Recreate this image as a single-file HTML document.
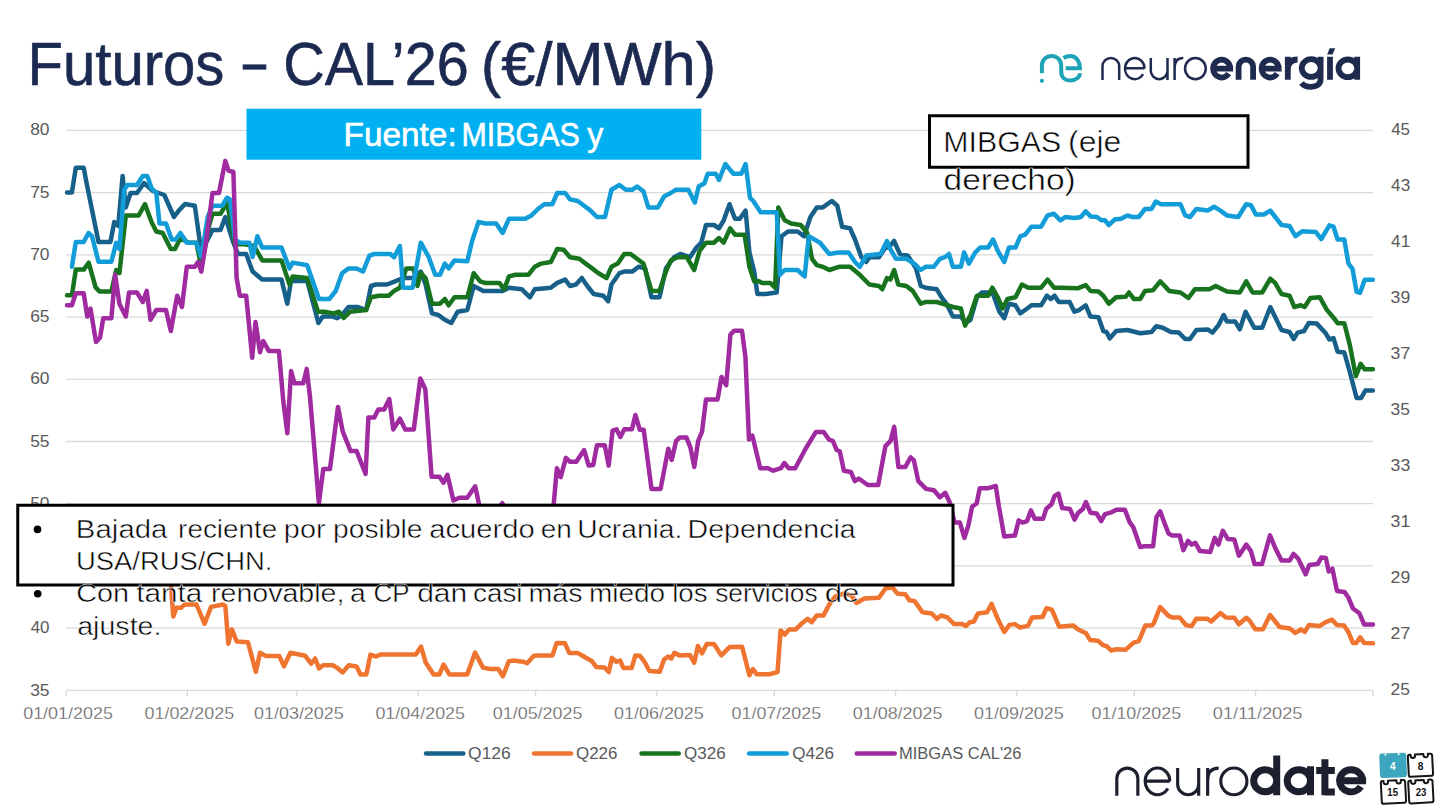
<!DOCTYPE html>
<html><head><meta charset="utf-8"><style>html,body{margin:0;padding:0;background:#fff;}body{width:1440px;height:810px;position:relative;overflow:hidden;font-family:"Liberation Sans",sans-serif;}</style></head><body>
<svg width="1440" height="810" viewBox="0 0 1440 810" style="position:absolute;left:0;top:0" font-family="Liberation Sans, sans-serif">
<rect width="1440" height="810" fill="#fff"/>
<line x1="66" y1="130.4" x2="1373" y2="130.4" stroke="#d9d9d9" stroke-width="1.3"/>
<line x1="66" y1="192.62" x2="1373" y2="192.62" stroke="#d9d9d9" stroke-width="1.3"/>
<line x1="66" y1="254.84" x2="1373" y2="254.84" stroke="#d9d9d9" stroke-width="1.3"/>
<line x1="66" y1="317.06" x2="1373" y2="317.06" stroke="#d9d9d9" stroke-width="1.3"/>
<line x1="66" y1="379.28" x2="1373" y2="379.28" stroke="#d9d9d9" stroke-width="1.3"/>
<line x1="66" y1="441.5" x2="1373" y2="441.5" stroke="#d9d9d9" stroke-width="1.3"/>
<line x1="66" y1="503.72" x2="1373" y2="503.72" stroke="#d9d9d9" stroke-width="1.3"/>
<line x1="66" y1="565.9399999999999" x2="1373" y2="565.9399999999999" stroke="#d9d9d9" stroke-width="1.3"/>
<line x1="66" y1="628.16" x2="1373" y2="628.16" stroke="#d9d9d9" stroke-width="1.3"/>
<line x1="66" y1="690.38" x2="1373" y2="690.38" stroke="#d9d9d9" stroke-width="1.3"/>
<line x1="66.0" y1="690.38" x2="66.0" y2="695.88" stroke="#d9d9d9" stroke-width="1.3"/>
<line x1="187.3" y1="690.38" x2="187.3" y2="695.88" stroke="#d9d9d9" stroke-width="1.3"/>
<line x1="296.9" y1="690.38" x2="296.9" y2="695.88" stroke="#d9d9d9" stroke-width="1.3"/>
<line x1="418.2" y1="690.38" x2="418.2" y2="695.88" stroke="#d9d9d9" stroke-width="1.3"/>
<line x1="535.6" y1="690.38" x2="535.6" y2="695.88" stroke="#d9d9d9" stroke-width="1.3"/>
<line x1="656.9" y1="690.38" x2="656.9" y2="695.88" stroke="#d9d9d9" stroke-width="1.3"/>
<line x1="774.3" y1="690.38" x2="774.3" y2="695.88" stroke="#d9d9d9" stroke-width="1.3"/>
<line x1="895.6" y1="690.38" x2="895.6" y2="695.88" stroke="#d9d9d9" stroke-width="1.3"/>
<line x1="1016.9" y1="690.38" x2="1016.9" y2="695.88" stroke="#d9d9d9" stroke-width="1.3"/>
<line x1="1134.3" y1="690.38" x2="1134.3" y2="695.88" stroke="#d9d9d9" stroke-width="1.3"/>
<line x1="1255.6" y1="690.38" x2="1255.6" y2="695.88" stroke="#d9d9d9" stroke-width="1.3"/>
<line x1="1373.0" y1="690.38" x2="1373.0" y2="695.88" stroke="#d9d9d9" stroke-width="1.3"/>
<path d="M67.0,192.5 L71.9,192.5 L75.8,167.8 L83.7,167.8 L86.3,181.7 L98.5,242.0 L110.4,242.0 L114.3,222.0 L118.3,226.0 L122.6,176.0 L125.8,207.4 L130.6,193.0 L137.0,193.0 L144.0,183.0 L153.0,191.0 L164.3,195.0 L174.0,217.0 L178.8,210.6 L185.0,204.0 L194.8,205.8 L201.3,252.0 L206.0,242.7 L212.5,230.0 L220.5,230.0 L225.3,217.0 L233.4,242.7 L238.0,254.0 L246.2,254.0 L252.6,271.6 L262.2,279.6 L281.5,279.6 L287.3,303.7 L291.0,281.0 L307.2,281.0 L318.4,323.0 L322.8,316.6 L332.5,316.6 L337.3,318.2 L342.1,315.0 L348.5,307.0 L358.2,307.0 L366.2,310.0 L371.0,286.0 L375.8,284.5 L387.0,284.5 L395.0,281.3 L403.1,278.0 L412.7,278.0 L420.8,271.6 L425.6,284.5 L432.0,313.4 L438.4,315.0 L444.8,319.8 L451.3,323.0 L457.7,311.7 L467.3,310.0 L473.7,286.0 L483.4,290.9 L502.6,290.9 L509.0,287.7 L521.9,289.3 L529.9,297.3 L534.7,289.3 L550.8,287.7 L557.2,282.9 L565.2,279.6 L570.0,286.0 L576.0,284.5 L581.8,278.0 L587.3,286.0 L593.7,294.0 L603.3,295.7 L608.2,301.2 L611.4,284.5 L619.4,273.2 L624.2,271.6 L632.2,271.6 L638.7,266.8 L645.1,268.4 L651.5,297.3 L659.5,297.3 L665.9,268.4 L674.0,257.2 L680.4,254.0 L690.0,257.2 L696.4,247.5 L701.3,242.7 L706.0,225.0 L714.0,225.0 L719.0,228.3 L723.7,220.3 L729.5,204.2 L735.0,218.7 L739.8,218.7 L745.6,210.6 L749.4,252.4 L754.2,271.6 L757.4,294.0 L765.5,294.0 L776.7,292.5 L781.5,236.3 L788.0,231.5 L797.6,231.5 L804.0,236.3 L810.4,217.0 L816.8,207.4 L822.8,207.4 L831.8,201.0 L837.3,205.8 L842.1,226.7 L850.1,228.3 L855.0,239.5 L861.4,257.2 L866.2,262.0 L869.4,257.2 L879.0,257.2 L885.4,247.5 L888.7,247.5 L894.1,241.0 L899.9,254.0 L907.9,255.6 L916.0,268.4 L920.8,286.0 L925.6,287.7 L936.8,289.3 L941.6,297.3 L946.4,303.7 L952.9,316.6 L960.9,316.6 L965.7,323.0 L970.5,319.8 L976.9,297.3 L981.7,292.5 L988.2,292.5 L993.0,294.0 L999.4,311.7 L1004.2,318.2 L1009.0,303.7 L1015.5,305.3 L1020.3,313.4 L1025.1,310.0 L1031.5,305.3 L1041.1,305.3 L1046.9,295.7 L1050.8,299.0 L1054.6,295.7 L1058.8,302.0 L1069.6,302.0 L1074.4,311.7 L1079.3,310.0 L1085.7,305.3 L1090.5,316.6 L1098.5,317.2 L1103.3,331.0 L1106.5,332.0 L1109.8,338.4 L1116.2,331.0 L1127.4,330.0 L1140.3,333.3 L1151.5,332.0 L1156.3,326.2 L1162.7,327.8 L1170.8,332.0 L1178.8,332.6 L1185.2,339.0 L1190.0,339.0 L1196.4,330.0 L1207.7,329.4 L1212.5,332.6 L1218.9,324.6 L1223.7,315.0 L1226.9,321.4 L1235.0,321.4 L1239.8,329.4 L1245.6,311.7 L1254.2,327.8 L1262.2,327.8 L1270.3,307.0 L1281.5,330.0 L1289.5,332.0 L1293.7,339.0 L1297.6,332.6 L1304.0,331.0 L1308.8,323.0 L1316.8,323.6 L1325.3,332.7 L1329.4,339.5 L1333.5,338.1 L1337.6,351.7 L1344.3,352.5 L1349.8,372.0 L1356.6,397.9 L1361.2,397.9 L1365.4,390.5 L1372.9,390.5" fill="none" stroke="#17608a" stroke-width="4.5" stroke-linejoin="round" stroke-linecap="round"/>
<path d="M67.0,560.0 L100.0,555.0 L150.0,560.0 L168.0,570.0 L170.9,584.4 L173.3,616.5 L176.5,607.7 L181.3,607.7 L184.5,604.5 L196.5,604.5 L204.6,623.8 L211.0,606.9 L223.0,604.5 L225.4,606.1 L228.3,643.8 L231.9,629.4 L236.7,641.4 L247.9,642.2 L255.9,671.9 L260.0,652.7 L265.6,655.9 L279.2,655.9 L284.0,666.3 L290.4,652.7 L305.2,655.8 L311.1,663.7 L315.1,658.5 L319.0,668.4 L323.0,665.3 L332.8,665.3 L336.8,667.6 L342.7,672.4 L348.7,665.3 L356.6,666.4 L360.5,674.4 L366.4,674.4 L370.4,654.6 L376.3,656.6 L380.3,654.6 L415.8,654.6 L421.0,646.7 L425.7,662.5 L433.6,674.4 L439.5,674.4 L443.5,664.5 L449.4,674.4 L467.2,674.4 L475.1,652.6 L483.0,667.6 L490.0,669.0 L498.3,669.0 L502.9,676.3 L508.8,661.3 L512.9,660.6 L523.3,661.7 L527.1,663.3 L533.8,655.8 L540.0,655.4 L552.5,655.4 L556.7,642.9 L565.0,643.3 L569.2,652.9 L577.5,652.9 L583.8,656.5 L592.1,661.3 L596.3,666.9 L604.6,667.5 L608.8,672.1 L611.9,657.9 L616.0,661.7 L620.2,660.6 L623.3,667.9 L631.7,667.9 L635.4,655.4 L640.0,655.8 L644.2,661.3 L649.4,671.0 L659.8,671.7 L664.0,659.6 L668.1,656.5 L671.3,658.5 L674.4,652.9 L679.6,655.4 L690.0,655.0 L694.2,662.7 L697.9,646.0 L702.1,653.3 L706.7,644.0 L714.0,644.0 L721.3,655.4 L729.6,647.1 L742.1,646.7 L749.4,675.2 L752.9,669.0 L756.7,674.2 L769.2,674.2 L777.5,672.1 L780.6,630.4 L784.8,634.6 L789.2,629.4 L795.8,629.4 L801.1,624.1 L807.7,618.8 L811.7,622.2 L816.9,615.4 L823.5,615.4 L830.1,603.0 L835.4,596.4 L843.3,593.7 L851.2,595.1 L856.5,603.0 L864.4,598.5 L878.9,597.7 L885.5,588.5 L892.1,587.2 L897.4,593.7 L905.3,594.3 L909.3,600.3 L914.6,601.1 L922.5,612.2 L931.7,613.5 L937.0,618.8 L941.0,615.4 L947.5,617.5 L954.1,624.1 L962.1,624.1 L966.0,625.9 L970.0,622.2 L973.9,621.5 L977.9,613.5 L987.1,612.2 L991.6,603.8 L997.7,618.8 L1004.3,632.0 L1009.5,624.9 L1014.8,624.1 L1020.1,627.5 L1028.0,625.9 L1032.0,617.5 L1042.5,617.0 L1046.5,608.3 L1051.8,609.6 L1059.2,626.7 L1072.9,625.4 L1078.2,629.4 L1086.1,633.3 L1090.0,639.9 L1097.9,640.7 L1103.2,645.2 L1107.2,646.5 L1111.1,650.5 L1116.4,649.2 L1125.7,649.7 L1133.6,642.6 L1138.8,641.2 L1145.4,625.4 L1152.0,625.4 L1153.7,623.3 L1160.2,607.0 L1168.5,615.9 L1172.2,617.4 L1179.6,617.4 L1186.1,625.2 L1191.7,626.1 L1196.3,618.7 L1207.4,618.7 L1211.1,621.5 L1220.4,613.1 L1225.9,617.4 L1234.3,617.8 L1238.9,624.3 L1246.3,617.8 L1250.0,621.1 L1255.2,629.3 L1263.0,629.3 L1270.0,615.0 L1279.6,627.0 L1289.8,628.5 L1295.4,633.0 L1300.9,629.3 L1304.8,632.0 L1308.8,625.0 L1319.3,626.1 L1325.7,622.1 L1332.1,619.7 L1336.9,625.0 L1344.1,625.6 L1348.2,631.7 L1353.0,643.0 L1356.2,643.0 L1360.2,637.4 L1364.2,643.0 L1373.0,643.3" fill="none" stroke="#ee7430" stroke-width="4.5" stroke-linejoin="round" stroke-linecap="round"/>
<path d="M67.0,295.3 L71.9,295.3 L75.8,269.6 L83.7,269.6 L88.7,262.7 L95.6,287.4 L99.5,291.4 L111.4,291.4 L116.2,270.0 L119.4,273.2 L125.8,215.4 L138.7,215.4 L145.0,204.2 L151.5,221.9 L156.3,231.5 L162.7,233.0 L170.8,249.0 L175.0,249.0 L180.4,238.0 L188.4,242.7 L196.4,242.7 L201.3,266.8 L209.3,225.0 L212.5,213.8 L220.5,213.8 L227.0,202.6 L235.0,244.3 L244.6,244.3 L254.2,246.0 L262.2,260.4 L281.5,260.4 L289.5,284.5 L292.7,276.4 L307.2,278.0 L318.0,311.7 L324.4,311.7 L334.0,313.4 L338.9,311.7 L343.7,318.0 L350.1,311.7 L366.2,310.0 L371.0,297.3 L379.0,295.7 L388.7,295.7 L394.1,290.9 L399.9,287.7 L406.3,268.4 L413.4,268.4 L417.5,286.0 L420.8,273.2 L425.6,278.0 L432.0,303.7 L440.0,303.7 L444.8,299.0 L448.7,305.3 L454.5,297.3 L467.3,297.3 L473.7,273.2 L480.1,281.3 L485.0,282.9 L499.4,282.9 L504.2,289.3 L509.0,276.4 L515.5,274.8 L528.3,274.8 L534.7,266.8 L541.1,263.6 L550.8,262.0 L557.2,249.1 L563.6,249.8 L570.0,257.2 L579.3,258.8 L585.7,263.6 L592.1,268.4 L598.5,273.2 L606.5,278.0 L611.4,266.8 L617.8,263.6 L624.2,254.0 L630.6,254.0 L637.0,258.8 L643.5,263.6 L651.5,290.9 L659.5,290.9 L665.9,271.6 L670.8,260.4 L677.2,257.2 L686.8,257.2 L694.2,270.0 L699.6,250.8 L706.0,242.7 L714.0,242.7 L719.0,238.0 L723.7,242.7 L730.1,228.3 L735.0,234.7 L744.6,234.7 L749.4,266.8 L754.2,281.3 L759.0,281.3 L762.2,282.9 L770.3,282.9 L775.1,287.7 L778.3,207.4 L784.7,220.3 L791.1,223.5 L800.8,225.0 L807.2,233.0 L812.0,258.8 L816.8,265.2 L822.8,266.8 L829.3,270.0 L838.9,266.8 L850.1,266.8 L859.8,274.8 L869.4,284.5 L879.0,286.0 L882.2,289.3 L887.0,278.0 L890.3,279.6 L894.1,270.0 L898.3,284.5 L906.3,286.0 L912.7,290.9 L920.8,303.7 L925.6,302.0 L936.8,302.0 L948.0,305.3 L952.9,307.0 L960.9,308.5 L965.0,325.6 L970.5,315.0 L976.9,295.7 L988.2,295.7 L992.3,287.7 L997.8,297.3 L1002.6,308.5 L1007.4,299.0 L1015.5,297.3 L1021.9,284.5 L1028.3,287.7 L1041.1,287.7 L1047.6,279.6 L1054.0,287.7 L1060.4,287.7 L1077.7,288.3 L1085.7,285.1 L1090.5,290.9 L1098.5,291.5 L1103.3,295.7 L1108.8,303.7 L1116.2,297.3 L1125.8,296.7 L1129.0,292.5 L1133.8,298.9 L1140.3,298.9 L1145.0,290.9 L1153.1,290.2 L1160.2,281.3 L1169.2,290.9 L1180.4,292.5 L1188.4,298.0 L1194.8,289.3 L1209.3,289.3 L1215.7,286.0 L1226.9,291.5 L1239.8,292.5 L1246.2,281.3 L1252.6,292.5 L1262.2,292.5 L1270.3,278.7 L1275.1,282.9 L1281.5,294.0 L1289.5,295.7 L1294.3,307.0 L1300.8,305.3 L1304.6,307.0 L1310.4,298.0 L1319.9,297.3 L1326.7,309.6 L1333.5,317.7 L1337.6,323.2 L1344.3,323.2 L1349.8,344.9 L1355.8,376.1 L1360.7,363.9 L1364.7,369.3 L1372.9,369.3" fill="none" stroke="#18731f" stroke-width="4.5" stroke-linejoin="round" stroke-linecap="round"/>
<path d="M71.9,266.7 L75.8,242.0 L83.7,242.0 L88.5,233.0 L92.0,236.3 L98.5,261.7 L111.4,261.7 L116.2,242.7 L119.4,249.0 L124.2,189.8 L127.4,185.0 L137.0,185.0 L142.8,176.0 L147.3,176.0 L151.5,188.0 L156.3,193.0 L159.5,223.5 L166.0,223.5 L171.7,239.5 L175.6,239.5 L180.4,233.0 L186.8,242.7 L196.4,242.7 L201.3,257.0 L207.7,217.0 L212.5,205.8 L222.1,205.8 L227.0,197.8 L230.0,199.4 L235.0,239.5 L239.8,242.7 L249.4,242.7 L252.6,257.0 L257.4,236.3 L262.2,247.5 L281.5,247.5 L289.5,268.4 L292.7,262.6 L307.2,265.2 L319.0,299.0 L329.3,299.0 L335.7,291.0 L342.1,273.2 L348.5,268.4 L356.5,268.4 L363.0,271.6 L369.4,255.6 L374.2,254.0 L390.3,254.0 L394.1,257.2 L399.9,246.0 L403.1,287.7 L412.7,287.7 L420.8,242.7 L428.8,257.2 L435.2,274.8 L440.0,274.8 L444.8,263.6 L448.7,268.4 L454.5,260.4 L467.3,261.3 L472.1,241.0 L478.5,221.9 L485.0,223.5 L496.2,223.5 L502.6,233.0 L509.0,218.7 L525.1,218.7 L531.5,215.4 L537.9,209.0 L544.3,204.2 L552.4,204.2 L557.2,193.0 L565.2,193.0 L570.0,199.4 L577.7,201.0 L584.1,205.8 L590.5,210.6 L596.9,217.0 L605.0,217.0 L611.4,189.8 L619.4,185.0 L625.8,189.8 L632.2,189.8 L637.0,186.5 L643.5,191.4 L648.3,207.4 L657.9,207.4 L664.3,196.2 L670.8,193.0 L675.6,189.8 L688.4,189.8 L694.8,202.6 L698.7,186.5 L704.5,183.3 L707.7,173.7 L715.7,173.7 L719.0,180.0 L725.3,164.0 L733.4,173.7 L741.4,173.7 L745.6,164.0 L750.0,197.8 L753.3,201.0 L760.6,212.2 L776.7,212.2 L780.0,274.8 L784.7,270.0 L797.6,270.0 L804.6,276.4 L808.8,236.3 L820.0,242.7 L829.3,254.0 L838.9,252.4 L848.5,252.4 L855.0,262.0 L859.8,266.8 L866.2,255.6 L880.6,254.0 L887.0,241.0 L890.3,249.1 L896.0,258.8 L906.3,258.8 L914.3,263.6 L920.8,270.0 L925.6,266.8 L933.6,266.8 L940.0,258.8 L944.8,257.2 L949.0,254.0 L952.9,266.8 L960.9,266.8 L964.1,252.4 L968.9,263.6 L975.3,252.4 L980.2,247.5 L988.2,247.5 L993.0,239.5 L997.8,250.8 L1004.2,262.0 L1009.0,247.5 L1015.5,247.5 L1020.3,236.3 L1025.1,234.7 L1031.5,226.7 L1041.1,226.7 L1047.6,215.4 L1054.0,213.8 L1060.4,220.3 L1065.2,217.0 L1074.4,218.0 L1080.9,217.0 L1085.7,211.3 L1090.5,216.4 L1096.9,217.0 L1101.7,220.3 L1104.9,220.3 L1108.8,225.0 L1114.6,219.6 L1121.0,218.7 L1127.4,215.4 L1132.2,217.0 L1138.7,217.0 L1145.0,209.0 L1151.5,209.0 L1155.7,201.6 L1161.1,204.2 L1180.4,204.2 L1185.2,215.4 L1190.0,217.0 L1196.4,209.0 L1207.7,210.6 L1214.1,206.8 L1220.5,210.6 L1226.9,215.4 L1238.2,217.0 L1246.2,204.2 L1251.0,205.2 L1255.8,214.5 L1263.9,214.5 L1270.3,210.6 L1281.5,225.0 L1289.5,226.0 L1295.4,236.2 L1302.2,231.3 L1315.8,232.1 L1321.3,239.0 L1329.4,225.3 L1333.5,226.7 L1337.6,239.5 L1344.3,239.5 L1348.4,263.4 L1352.5,268.8 L1356.6,291.9 L1360.1,292.7 L1364.7,279.7 L1372.9,279.7" fill="none" stroke="#139dd8" stroke-width="4.5" stroke-linejoin="round" stroke-linecap="round"/>
<path d="M67.0,305.2 L71.9,305.2 L75.8,293.3 L83.7,293.3 L87.3,316.6 L90.5,308.5 L96.0,342.0 L100.1,337.4 L103.3,318.2 L111.4,318.2 L115.2,274.8 L119.4,303.7 L125.8,316.6 L129.0,292.5 L137.0,292.5 L142.8,302.0 L146.7,290.9 L150.5,319.8 L156.3,310.0 L166.0,310.0 L170.8,331.0 L177.2,295.7 L182.0,307.0 L186.8,266.8 L194.8,266.8 L198.0,262.0 L201.3,271.6 L206.0,242.7 L212.5,193.0 L219.0,193.0 L225.3,160.9 L228.5,170.5 L233.4,172.0 L236.6,278.0 L239.8,295.7 L246.2,295.7 L252.2,357.8 L255.5,322.0 L260.0,352.2 L263.3,341.1 L268.9,351.1 L278.9,351.1 L283.3,401.1 L287.3,433.3 L291.1,371.1 L294.4,383.3 L303.3,383.3 L306.7,368.9 L310.0,396.7 L318.9,503.3 L323.3,468.9 L330.0,468.9 L338.0,406.9 L342.7,431.4 L350.6,451.1 L356.6,451.1 L365.6,474.0 L368.4,417.5 L374.3,417.5 L378.3,409.6 L384.2,409.6 L389.3,399.0 L393.3,429.4 L400.0,418.7 L405.2,429.4 L413.8,429.4 L420.3,378.5 L425.3,389.0 L431.6,476.8 L439.5,476.8 L443.5,482.7 L447.4,474.8 L453.4,500.5 L459.3,497.7 L467.2,497.7 L475.2,486.3 L479.1,504.5 L490.0,520.0 L502.4,503.2 L510.0,520.0 L553.0,512.0 L556.9,468.2 L560.7,477.2 L565.9,457.8 L569.8,461.7 L576.3,461.7 L584.1,450.0 L588.7,465.6 L593.2,465.0 L597.0,445.3 L604.8,445.3 L608.7,465.6 L612.6,430.6 L616.5,429.3 L620.4,437.0 L624.3,429.3 L632.0,429.3 L635.4,415.0 L639.8,429.8 L643.7,429.8 L651.5,488.9 L660.6,488.9 L668.3,448.7 L671.7,459.9 L676.1,440.9 L679.5,437.6 L686.5,437.6 L690.4,447.4 L694.3,466.9 L698.2,440.9 L702.0,431.9 L706.0,399.4 L717.6,399.4 L721.5,376.9 L726.2,385.2 L730.4,334.6 L734.3,330.7 L742.0,330.7 L745.4,356.7 L749.0,439.6 L752.4,435.7 L760.2,468.2 L768.0,468.2 L773.2,470.7 L781.0,468.2 L784.3,463.0 L788.7,468.2 L795.2,468.2 L805.6,448.7 L815.9,431.9 L823.7,431.9 L828.9,439.6 L832.8,440.9 L836.7,450.0 L839.8,451.3 L843.9,470.7 L850.9,472.0 L854.8,481.1 L858.7,478.5 L867.8,485.0 L878.2,485.0 L885.4,446.1 L890.6,440.9 L894.2,426.7 L898.4,466.9 L905.4,466.9 L910.6,457.3 L913.9,460.4 L918.3,481.1 L926.1,488.9 L933.9,490.2 L939.9,497.2 L945.3,492.8 L949.9,502.8 L952.0,512.0 L954.5,522.6 L959.9,522.6 L964.4,537.9 L968.3,525.7 L972.1,506.6 L976.7,503.5 L979.7,488.3 L987.4,488.3 L995.8,486.0 L998.8,505.8 L1004.2,536.4 L1014.9,535.6 L1018.7,520.4 L1022.5,522.6 L1027.1,521.1 L1030.9,510.4 L1034.7,518.8 L1043.1,518.8 L1046.2,508.9 L1051.5,504.3 L1054.6,495.9 L1058.4,493.6 L1062.2,508.1 L1069.9,508.9 L1074.5,519.6 L1078.3,512.7 L1082.9,508.9 L1085.9,502.0 L1090.5,512.7 L1096.6,513.5 L1101.2,521.1 L1105.0,514.2 L1110.4,512.7 L1116.5,509.7 L1124.9,509.7 L1129.5,521.9 L1133.3,527.2 L1140.2,547.1 L1144.0,546.3 L1153.1,546.3 L1156.5,516.9 L1160.2,511.3 L1163.9,521.5 L1168.5,533.5 L1172.2,535.4 L1179.6,535.4 L1183.3,550.2 L1188.0,540.9 L1191.7,544.6 L1195.4,542.8 L1200.0,551.1 L1210.2,552.0 L1214.8,537.8 L1218.5,544.6 L1222.8,530.7 L1227.8,539.1 L1234.3,539.6 L1238.9,555.7 L1246.3,544.6 L1250.9,551.1 L1254.6,564.1 L1262.0,564.1 L1270.0,535.4 L1275.0,547.4 L1281.5,560.4 L1289.8,560.4 L1293.5,553.9 L1298.1,558.5 L1305.6,574.3 L1309.3,565.0 L1317.6,564.1 L1321.3,557.6 L1325.9,558.1 L1328.7,571.5 L1332.4,568.7 L1337.0,590.9 L1344.4,591.9 L1348.2,597.2 L1353.0,608.5 L1359.4,613.3 L1364.2,624.5 L1373.0,624.5" fill="none" stroke="#a02ba0" stroke-width="4.5" stroke-linejoin="round" stroke-linecap="round"/>
<text x="30.18" y="135.25" font-size="16.70" font-weight="normal" fill="#595959" textLength="19.38" lengthAdjust="spacingAndGlyphs" >80</text>
<text x="30.18" y="197.50" font-size="16.70" font-weight="normal" fill="#595959" textLength="19.38" lengthAdjust="spacingAndGlyphs" >75</text>
<text x="30.18" y="259.75" font-size="16.70" font-weight="normal" fill="#595959" textLength="19.38" lengthAdjust="spacingAndGlyphs" >70</text>
<text x="30.18" y="322.00" font-size="16.70" font-weight="normal" fill="#595959" textLength="19.38" lengthAdjust="spacingAndGlyphs" >65</text>
<text x="30.18" y="384.25" font-size="16.70" font-weight="normal" fill="#595959" textLength="19.38" lengthAdjust="spacingAndGlyphs" >60</text>
<text x="30.18" y="446.50" font-size="16.70" font-weight="normal" fill="#595959" textLength="19.38" lengthAdjust="spacingAndGlyphs" >55</text>
<text x="30.18" y="508.75" font-size="16.70" font-weight="normal" fill="#595959" textLength="19.38" lengthAdjust="spacingAndGlyphs" >50</text>
<text x="30.71" y="571.00" font-size="16.70" font-weight="normal" fill="#595959" textLength="18.83" lengthAdjust="spacingAndGlyphs" >45</text>
<text x="30.71" y="633.25" font-size="16.70" font-weight="normal" fill="#595959" textLength="18.83" lengthAdjust="spacingAndGlyphs" >40</text>
<text x="30.18" y="695.50" font-size="16.70" font-weight="normal" fill="#595959" textLength="19.38" lengthAdjust="spacingAndGlyphs" >35</text>
<text x="1391.15" y="135.00" font-size="16.70" font-weight="normal" fill="#595959" textLength="18.83" lengthAdjust="spacingAndGlyphs" >45</text>
<text x="1391.14" y="191.00" font-size="16.70" font-weight="normal" fill="#595959" textLength="19.10" lengthAdjust="spacingAndGlyphs" >43</text>
<text x="1391.14" y="247.00" font-size="16.70" font-weight="normal" fill="#595959" textLength="19.10" lengthAdjust="spacingAndGlyphs" >41</text>
<text x="1390.61" y="303.00" font-size="16.70" font-weight="normal" fill="#595959" textLength="19.66" lengthAdjust="spacingAndGlyphs" >39</text>
<text x="1390.61" y="359.00" font-size="16.70" font-weight="normal" fill="#595959" textLength="19.66" lengthAdjust="spacingAndGlyphs" >37</text>
<text x="1390.62" y="415.00" font-size="16.70" font-weight="normal" fill="#595959" textLength="19.38" lengthAdjust="spacingAndGlyphs" >35</text>
<text x="1390.61" y="471.00" font-size="16.70" font-weight="normal" fill="#595959" textLength="19.66" lengthAdjust="spacingAndGlyphs" >33</text>
<text x="1390.61" y="527.00" font-size="16.70" font-weight="normal" fill="#595959" textLength="19.66" lengthAdjust="spacingAndGlyphs" >31</text>
<text x="1390.61" y="583.00" font-size="16.70" font-weight="normal" fill="#595959" textLength="19.66" lengthAdjust="spacingAndGlyphs" >29</text>
<text x="1390.61" y="639.00" font-size="16.70" font-weight="normal" fill="#595959" textLength="19.66" lengthAdjust="spacingAndGlyphs" >27</text>
<text x="1390.62" y="695.00" font-size="16.70" font-weight="normal" fill="#595959" textLength="19.38" lengthAdjust="spacingAndGlyphs" >25</text>
<text x="23.21" y="718.80" font-size="16.90" font-weight="normal" fill="#595959" textLength="89.65" lengthAdjust="spacingAndGlyphs" stroke="#fff" stroke-width="0.3">01/01/2025</text>
<text x="144.52" y="718.80" font-size="16.90" font-weight="normal" fill="#595959" textLength="89.65" lengthAdjust="spacingAndGlyphs" stroke="#fff" stroke-width="0.3">01/02/2025</text>
<text x="254.09" y="718.80" font-size="16.90" font-weight="normal" fill="#595959" textLength="89.65" lengthAdjust="spacingAndGlyphs" stroke="#fff" stroke-width="0.3">01/03/2025</text>
<text x="375.40" y="718.80" font-size="16.90" font-weight="normal" fill="#595959" textLength="89.65" lengthAdjust="spacingAndGlyphs" stroke="#fff" stroke-width="0.3">01/04/2025</text>
<text x="492.79" y="718.80" font-size="16.90" font-weight="normal" fill="#595959" textLength="89.65" lengthAdjust="spacingAndGlyphs" stroke="#fff" stroke-width="0.3">01/05/2025</text>
<text x="614.10" y="718.80" font-size="16.90" font-weight="normal" fill="#595959" textLength="89.65" lengthAdjust="spacingAndGlyphs" stroke="#fff" stroke-width="0.3">01/06/2025</text>
<text x="731.49" y="718.80" font-size="16.90" font-weight="normal" fill="#595959" textLength="89.65" lengthAdjust="spacingAndGlyphs" stroke="#fff" stroke-width="0.3">01/07/2025</text>
<text x="852.80" y="718.80" font-size="16.90" font-weight="normal" fill="#595959" textLength="89.65" lengthAdjust="spacingAndGlyphs" stroke="#fff" stroke-width="0.3">01/08/2025</text>
<text x="974.11" y="718.80" font-size="16.90" font-weight="normal" fill="#595959" textLength="89.65" lengthAdjust="spacingAndGlyphs" stroke="#fff" stroke-width="0.3">01/09/2025</text>
<text x="1091.51" y="718.80" font-size="16.90" font-weight="normal" fill="#595959" textLength="89.65" lengthAdjust="spacingAndGlyphs" stroke="#fff" stroke-width="0.3">01/10/2025</text>
<text x="1212.80" y="718.80" font-size="16.90" font-weight="normal" fill="#595959" textLength="89.67" lengthAdjust="spacingAndGlyphs" stroke="#fff" stroke-width="0.3">01/11/2025</text>
<rect x="246.5" y="108.7" width="454.8" height="51" fill="#00b0f0"/>
<text x="343.54" y="145.80" font-size="33.20" font-weight="normal" fill="#fff" textLength="113.18" lengthAdjust="spacingAndGlyphs" stroke="#fff" stroke-width="0.6">Fuente:</text>
<text x="461.54" y="145.80" font-size="33.20" font-weight="normal" fill="#fff" textLength="118.12" lengthAdjust="spacingAndGlyphs" stroke="#fff" stroke-width="0.6">MIBGAS</text>
<text x="587.20" y="145.80" font-size="33.20" font-weight="normal" fill="#fff" textLength="16.12" lengthAdjust="spacingAndGlyphs" stroke="#fff" stroke-width="0.6">y</text>
<rect x="929.5" y="115.75" width="318.5" height="51.5" fill="#fff" stroke="#000" stroke-width="3"/>
<text x="943.38" y="151.75" font-size="28.70" font-weight="normal" fill="#000" textLength="117.75" lengthAdjust="spacingAndGlyphs" stroke="#fff" stroke-width="0.5">MIBGAS</text>
<text x="1068.06" y="151.75" font-size="28.70" font-weight="normal" fill="#000" textLength="53.26" lengthAdjust="spacingAndGlyphs" stroke="#fff" stroke-width="0.5">(eje</text>
<text x="943.54" y="190.00" font-size="28.70" font-weight="normal" fill="#000" textLength="132.20" lengthAdjust="spacingAndGlyphs" stroke="#fff" stroke-width="0.5">derecho)</text>
<rect x="17.75" y="505.25" width="935.25" height="79.75" fill="#fff" stroke="#000" stroke-width="3"/>
<text x="75.88" y="537.80" font-size="26.30" font-weight="normal" fill="#000" textLength="91.60" lengthAdjust="spacingAndGlyphs" stroke="#fff" stroke-width="0.5">Bajada</text>
<text x="178.14" y="537.80" font-size="26.30" font-weight="normal" fill="#000" textLength="99.06" lengthAdjust="spacingAndGlyphs" stroke="#fff" stroke-width="0.5">reciente</text>
<text x="283.88" y="537.80" font-size="26.30" font-weight="normal" fill="#000" textLength="41.60" lengthAdjust="spacingAndGlyphs" stroke="#fff" stroke-width="0.5">por</text>
<text x="333.12" y="537.80" font-size="26.30" font-weight="normal" fill="#000" textLength="89.45" lengthAdjust="spacingAndGlyphs" stroke="#fff" stroke-width="0.5">posible</text>
<text x="429.19" y="537.80" font-size="26.30" font-weight="normal" fill="#000" textLength="105.54" lengthAdjust="spacingAndGlyphs" stroke="#fff" stroke-width="0.5">acuerdo</text>
<text x="540.84" y="537.80" font-size="26.30" font-weight="normal" fill="#000" textLength="31.07" lengthAdjust="spacingAndGlyphs" stroke="#fff" stroke-width="0.5">en</text>
<text x="577.35" y="537.80" font-size="26.30" font-weight="normal" fill="#000" textLength="105.06" lengthAdjust="spacingAndGlyphs" stroke="#fff" stroke-width="0.5">Ucrania.</text>
<text x="687.55" y="537.80" font-size="26.30" font-weight="normal" fill="#000" textLength="168.16" lengthAdjust="spacingAndGlyphs" stroke="#fff" stroke-width="0.5">Dependencia</text>
<text x="75.91" y="570.40" font-size="26.30" font-weight="normal" fill="#000" textLength="196.59" lengthAdjust="spacingAndGlyphs" stroke="#fff" stroke-width="0.5">USA/RUS/CHN.</text>
<circle cx="37.5" cy="529.4" r="3.8" fill="#000"/>
<text x="76.23" y="602.40" font-size="26.30" font-weight="normal" fill="#000" textLength="52.89" lengthAdjust="spacingAndGlyphs" stroke="#fff" stroke-width="0.5">Con</text>
<text x="136.22" y="602.40" font-size="26.30" font-weight="normal" fill="#000" textLength="66.13" lengthAdjust="spacingAndGlyphs" stroke="#fff" stroke-width="0.5">tanta</text>
<text x="210.99" y="602.40" font-size="26.30" font-weight="normal" fill="#000" textLength="133.44" lengthAdjust="spacingAndGlyphs" stroke="#fff" stroke-width="0.5">renovable,</text>
<text x="349.92" y="602.40" font-size="26.30" font-weight="normal" fill="#000" textLength="15.79" lengthAdjust="spacingAndGlyphs" stroke="#fff" stroke-width="0.5">a</text>
<text x="373.46" y="602.40" font-size="26.30" font-weight="normal" fill="#000" textLength="36.04" lengthAdjust="spacingAndGlyphs" stroke="#fff" stroke-width="0.5">CP</text>
<text x="417.15" y="602.40" font-size="26.30" font-weight="normal" fill="#000" textLength="50.22" lengthAdjust="spacingAndGlyphs" stroke="#fff" stroke-width="0.5">dan</text>
<text x="472.94" y="602.40" font-size="26.30" font-weight="normal" fill="#000" textLength="49.61" lengthAdjust="spacingAndGlyphs" stroke="#fff" stroke-width="0.5">casi</text>
<text x="528.49" y="602.40" font-size="26.30" font-weight="normal" fill="#000" textLength="54.02" lengthAdjust="spacingAndGlyphs" stroke="#fff" stroke-width="0.5">más</text>
<text x="588.93" y="602.40" font-size="26.30" font-weight="normal" fill="#000" textLength="76.22" lengthAdjust="spacingAndGlyphs" stroke="#fff" stroke-width="0.5">miedo</text>
<text x="672.15" y="602.40" font-size="26.30" font-weight="normal" fill="#000" textLength="35.39" lengthAdjust="spacingAndGlyphs" stroke="#fff" stroke-width="0.5">los</text>
<text x="715.15" y="602.40" font-size="26.30" font-weight="normal" fill="#000" textLength="102.41" lengthAdjust="spacingAndGlyphs" stroke="#fff" stroke-width="0.5">servicios</text>
<text x="824.71" y="602.40" font-size="26.30" font-weight="normal" fill="#000" textLength="34.71" lengthAdjust="spacingAndGlyphs" stroke="#fff" stroke-width="0.5">de</text>
<text x="77.21" y="635.20" font-size="26.30" font-weight="normal" fill="#000" textLength="84.23" lengthAdjust="spacingAndGlyphs" stroke="#fff" stroke-width="0.5">ajuste.</text>
<circle cx="37.7" cy="593.8" r="3.8" fill="#000"/>
<line x1="426.15000000000003" y1="753.5" x2="463.25" y2="753.5" stroke="#17608a" stroke-width="4.7" stroke-linecap="round"/>
<text x="468.12" y="758.80" font-size="16.80" font-weight="normal" fill="#595959" textLength="42.64" lengthAdjust="spacingAndGlyphs" >Q126</text>
<line x1="534.15" y1="753.5" x2="570.9499999999999" y2="753.5" stroke="#ee7430" stroke-width="4.7" stroke-linecap="round"/>
<text x="575.94" y="758.80" font-size="16.80" font-weight="normal" fill="#595959" textLength="41.50" lengthAdjust="spacingAndGlyphs" >Q226</text>
<line x1="641.65" y1="753.5" x2="678.65" y2="753.5" stroke="#18731f" stroke-width="4.7" stroke-linecap="round"/>
<text x="684.14" y="758.80" font-size="16.80" font-weight="normal" fill="#595959" textLength="41.60" lengthAdjust="spacingAndGlyphs" >Q326</text>
<line x1="749.15" y1="753.5" x2="786.65" y2="753.5" stroke="#139dd8" stroke-width="4.7" stroke-linecap="round"/>
<text x="792.23" y="758.80" font-size="16.80" font-weight="normal" fill="#595959" textLength="41.81" lengthAdjust="spacingAndGlyphs" >Q426</text>
<line x1="856.85" y1="753.5" x2="894.65" y2="753.5" stroke="#a02ba0" stroke-width="4.7" stroke-linecap="round"/>
<text x="898.97" y="758.80" font-size="16.80" font-weight="normal" fill="#595959" textLength="122.44" lengthAdjust="spacingAndGlyphs" >MIBGAS CAL'26</text>
<text x="27.54" y="84.60" font-size="61.00" font-weight="normal" fill="#1c2a52" textLength="196.85" lengthAdjust="spacingAndGlyphs" stroke="#1c2a52" stroke-width="0.6" stroke-linejoin="round">Futuros</text>
<rect x="242.7" y="64.4" width="23.6" height="5.2" fill="#1c2a52"/>
<text x="283.17" y="84.60" font-size="61.00" font-weight="normal" fill="#1c2a52" textLength="185.47" lengthAdjust="spacingAndGlyphs" stroke="#1c2a52" stroke-width="0.6" stroke-linejoin="round">CAL’26</text>
<text x="480.82" y="84.60" font-size="61.00" font-weight="normal" fill="#1c2a52" textLength="235.41" lengthAdjust="spacingAndGlyphs" stroke="#1c2a52" stroke-width="0.6" stroke-linejoin="round">(€/MWh)</text>
<g fill="none" stroke="#1ea3b6" stroke-width="4"><path d="M1041.9,73.2 L1041.9,65.5 A9.65,9.65 0 0 1 1061.2,65.5 L1061.2,71.5 C1061.2,77 1065,80.6 1070.5,80.6 C1076,80.6 1079.9,77 1079.9,73.2"/><path d="M1065.6,68.2 L1079.9,68.2 C1079.9,61 1076,56.1 1070.5,56.1 C1067.5,56.1 1065,57 1063.6,58"/></g>
<circle cx="1041.9" cy="80.8" r="2.1" fill="#1ea3b6"/>
<path d="M1102.5,80 L1102.5,66.35 A8.35,8.35 0 0 1 1119.2,66.35 L1119.2,80 M1125.00,68.3 L1144.55,68.3 M1144.55,68.55 A9.775,10.6 0 0 0 1125.00,68.55 A9.775,10.6 0 0 0 1143.06,74.17 M1150.8,58 L1150.8,70.8 A8.35,8.35 0 0 0 1167.5,70.8 M1167.5,58 L1167.5,80 M1174.6,80 L1174.6,58 M1174.6,68 C1174.6,61 1178,58 1183.3,58 M1185.025,68.55 A10.375,10.6 0 0 1 1205.775,68.55 A10.375,10.6 0 0 1 1185.025,68.55" fill="none" stroke="#1e2b4e" stroke-width="2.5"/>
<path d="M1213.10,68.60 L1233.10,68.60 M1230.20,68.50 A8.55,8.975 0 0 0 1213.10,68.50 A8.55,8.975 0 0 0 1228.65,73.65 M1238.6,79.8 L1238.6,66.8 A7.25,7.25 0 0 1 1253.1,66.8 L1253.1,79.8 M1261.60,68.60 L1281.60,68.60 M1278.70,68.50 A8.55,8.975 0 0 0 1261.60,68.50 A8.55,8.975 0 0 0 1277.15,73.65 M1287.8,79.8 L1287.8,56.65 M1287.8,70 C1287.8,63 1291,59.5 1297.6,59.5 M1301.75,68.05 A9.45,8.85 0 0 1 1320.65,68.05 A9.45,8.85 0 0 1 1301.75,68.05 M1320.6,56.65 L1320.6,79 C1320.6,84.5 1316.5,86.8 1311,86.8 C1306,86.8 1303,85 1301.5,83 M1330,56.65 L1330,79.8 M1338.5,68.35 A9.35,8.85 0 0 1 1357.2,68.35 A9.35,8.85 0 0 1 1338.5,68.35 M1357.2,56.65 L1357.2,79.8" fill="none" stroke="#1e2b4e" stroke-width="5.8"/>
<polygon points="1327.2,54.5 1332.6,54.5 1335.2,48.3 1329.6,48.3" fill="#1e2b4e"/>
<path d="M1102.5,80 L1102.5,66.35 A8.35,8.35 0 0 1 1119.2,66.35 L1119.2,80 M1125.00,68.3 L1144.55,68.3 M1144.55,68.55 A9.775,10.6 0 0 0 1125.00,68.55 A9.775,10.6 0 0 0 1143.06,74.17 M1150.8,58 L1150.8,70.8 A8.35,8.35 0 0 0 1167.5,70.8 M1167.5,58 L1167.5,80 M1174.6,80 L1174.6,58 M1174.6,68 C1174.6,61 1178,58 1183.3,58 M1185.025,68.55 A10.375,10.6 0 0 1 1205.775,68.55 A10.375,10.6 0 0 1 1185.025,68.55" fill="none" stroke="#1c1f2e" stroke-width="2.5" transform="translate(1116.8,795.8) scale(1.26) translate(-1102.5,-80)"/>
<path d="M1253.7,780.75 A11.5,11.05 0 0 1 1276.7,780.75 A11.5,11.05 0 0 1 1253.7,780.75 M1276.7,755.4 L1276.7,795.3 M1287.2,780.75 A11.65,11.05 0 0 1 1310.5,780.75 A11.65,11.05 0 0 1 1287.2,780.75 M1310.5,766.2 L1310.5,795.3 M1324.9,759.3 L1324.9,795.3 M1316.2,770.4 L1334.8,770.4 M1324.9,792 L1334.8,792 M1339.60,780.85 L1366.10,780.85 M1362.60,780.75 A11.5,11.05 0 0 0 1339.60,780.75 A11.5,11.05 0 0 0 1360.85,786.61 " fill="none" stroke="#1c1f2e" stroke-width="7"/>
<g transform="rotate(-2 1393.1 765.4)"><rect x="1379.6" y="753.2" width="27.0" height="24.4" rx="2.5" fill="#3ba6be"/><path d="M1385.8,753.2 v2.2 M1399.0,753.2 v2.2" stroke="#fff" stroke-width="1.6"/></g>
<g transform="rotate(-3 1420.4 765.2)"><path d="M1410.3,754.2 L1411.1,754.2 L1411.1,755.4 A2.2,2.2 0 0 0 1415.5,755.4 L1415.5,754.2 L1424.0,754.2 L1424.0,755.4 A2.2,2.2 0 0 0 1428.4,755.4 L1428.4,754.2 L1430.6,754.2 Q1432.6,754.2 1432.6,756.2 L1432.6,774.3 Q1432.6,776.3 1430.6,776.3 L1410.3,776.3 Q1408.3,776.3 1408.3,774.3 L1408.3,756.2 Q1408.3,754.2 1410.3,754.2 Z" fill="#fff" stroke="#151515" stroke-width="2" stroke-linejoin="round"/></g>
<g transform="rotate(-3 1393.4 791.9)"><path d="M1383.3,780.5 L1384.1,780.5 L1384.1,781.7 A2.2,2.2 0 0 0 1388.5,781.7 L1388.5,780.5 L1397.0,780.5 L1397.0,781.7 A2.2,2.2 0 0 0 1401.4,781.7 L1401.4,780.5 L1403.6,780.5 Q1405.6,780.5 1405.6,782.5 L1405.6,801.3 Q1405.6,803.3 1403.6,803.3 L1383.3,803.3 Q1381.3,803.3 1381.3,801.3 L1381.3,782.5 Q1381.3,780.5 1383.3,780.5 Z" fill="#fff" stroke="#151515" stroke-width="2" stroke-linejoin="round"/></g>
<g transform="rotate(-3 1420.8 791.5)"><path d="M1410.7,780.1 L1411.5,780.1 L1411.5,781.3 A2.2,2.2 0 0 0 1415.9,781.3 L1415.9,780.1 L1424.4,780.1 L1424.4,781.3 A2.2,2.2 0 0 0 1428.8,781.3 L1428.8,780.1 L1431.0,780.1 Q1433.0,780.1 1433.0,782.1 L1433.0,800.9 Q1433.0,802.9 1431.0,802.9 L1410.7,802.9 Q1408.7,802.9 1408.7,800.9 L1408.7,782.1 Q1408.7,780.1 1410.7,780.1 Z" fill="#fff" stroke="#151515" stroke-width="2" stroke-linejoin="round"/></g>
<text x="1389.97" y="770.00" font-size="10.80" font-weight="bold" fill="#fff" textLength="5.62" lengthAdjust="spacingAndGlyphs" >4</text>
<text x="1417.86" y="769.60" font-size="10.80" font-weight="bold" fill="#111" textLength="5.65" lengthAdjust="spacingAndGlyphs" >8</text>
<text x="1387.33" y="795.50" font-size="10.80" font-weight="bold" fill="#111" textLength="10.66" lengthAdjust="spacingAndGlyphs" >15</text>
<text x="1415.78" y="795.50" font-size="10.80" font-weight="bold" fill="#111" textLength="10.63" lengthAdjust="spacingAndGlyphs" >23</text>
</svg>
</body></html>
